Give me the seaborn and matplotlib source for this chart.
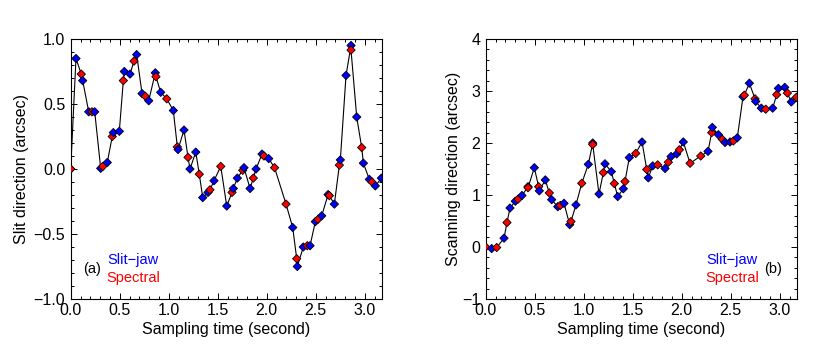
import numpy as np
import pandas as pd
import matplotlib
matplotlib.use("Agg")
import matplotlib.pyplot as plt
import seaborn as sns
from matplotlib.ticker import MultipleLocator

plt.rcParams['font.family'] = ['Liberation Sans', 'DejaVu Sans']
plt.rcParams['axes.unicode_minus'] = True

# ---------------- Panel (a): slit direction ----------------
slitjaw_time_a = [0.0, 0.054, 0.122, 0.184, 0.245, 0.306, 0.373, 0.435, 0.496, 0.547,
                  0.605, 0.673, 0.728, 0.796, 0.863, 0.918, 1.047, 1.095, 1.156, 1.217,
                  1.276, 1.347, 1.401, 1.462, 1.592, 1.659, 1.700, 1.768, 1.830, 1.891,
                  1.952, 2.020, 2.265, 2.312, 2.373, 2.442, 2.496, 2.561, 2.626, 2.690,
                  2.751, 2.809, 2.860, 2.918, 2.986, 3.047, 3.108, 3.170]
slitjaw_a = [0.0, 0.85, 0.68, 0.44, 0.44, 0.005, 0.05, 0.28, 0.29, 0.75,
             0.73, 0.88, 0.58, 0.525, 0.74, 0.59, 0.45, 0.15, 0.30, 0.0,
             0.13, -0.22, -0.18, -0.09, -0.285, -0.15, -0.07, 0.01, -0.15, 0.0,
             0.115, 0.08, -0.45, -0.75, -0.60, -0.59, -0.405, -0.36, -0.197, -0.27,
             0.07, 0.72, 0.95, 0.40, 0.045, -0.08, -0.13, -0.07]
spectral_time_a = [0.0, 0.108, 0.217, 0.327, 0.424, 0.537, 0.646, 0.761, 0.870, 0.980,
                   1.088, 1.197, 1.312, 1.421, 1.531, 1.646, 1.755, 1.863, 1.972, 2.080,
                   2.197, 2.306, 2.414, 2.523, 2.639, 2.741, 2.860, 2.969, 3.074]
spectral_a = [0.0, 0.73, 0.44, 0.02, 0.25, 0.68, 0.83, 0.56, 0.71, 0.54,
              0.17, 0.09, -0.04, -0.16, 0.02, -0.18, -0.01, -0.07, 0.10, 0.01,
              -0.27, -0.69, -0.59, -0.387, -0.205, 0.03, 0.915, 0.165, -0.10]

# ---------------- Panel (b): scanning direction ----------------
slitjaw_time_b = [0.061, 0.187, 0.248, 0.302, 0.370, 0.432, 0.496, 0.547, 0.608, 0.673,
                  0.735, 0.799, 0.857, 0.921, 1.047, 1.092, 1.156, 1.217, 1.282, 1.347,
                  1.404, 1.465, 1.595, 1.659, 1.704, 1.830, 1.891, 1.949, 2.016, 2.268,
                  2.312, 2.374, 2.442, 2.493, 2.567, 2.625, 2.690, 2.755, 2.812, 2.928,
                  2.986, 3.051, 3.118]
slitjaw_b = [-0.03, 0.17, 0.75, 0.88, 0.99, 1.16, 1.525, 1.08, 1.29, 0.91,
             0.775, 0.84, 0.43, 0.81, 1.59, 2.0, 1.02, 1.60, 1.45, 0.97,
             1.12, 1.72, 2.02, 1.33, 1.56, 1.51, 1.74, 1.79, 2.02, 1.84,
             2.30, 2.16, 2.01, 2.02, 2.10, 2.89, 3.15, 2.80, 2.67, 2.67,
             3.05, 3.07, 2.79]
spectral_time_b = [0.0, 0.112, 0.217, 0.330, 0.432, 0.540, 0.649, 0.761, 0.870, 0.980,
                   1.092, 1.200, 1.312, 1.421, 1.531, 1.643, 1.755, 1.863, 1.976, 2.085,
                   2.194, 2.306, 2.414, 2.527, 2.639, 2.748, 2.857, 2.969, 3.078, 3.170]
spectral_b = [0.0, -0.01, 0.47, 0.92, 1.14, 1.16, 1.04, 0.80, 0.49, 1.225,
              1.97, 1.43, 1.22, 1.26, 1.80, 1.49, 1.58, 1.63, 1.87, 1.61,
              1.75, 2.20, 2.07, 2.04, 2.92, 2.85, 2.65, 2.93, 2.96, 2.88]

series_names = ["Slit\u2212jaw", "Spectral"]
palette = {"Slit\u2212jaw": "#0000ff", "Spectral": "#ff0000"}

W, H = 830, 348
fig = plt.figure(figsize=(W / 100, H / 100), dpi=100)
ax_a = fig.add_axes([70.7 / W, 49 / H, 311 / W, 260 / H])
ax_b = fig.add_axes([485.7 / W, 49 / H, 311 / W, 260 / H])


def draw(ax, t1, v1, t2, v2):
    df = pd.concat([
        pd.DataFrame({"t": t1, "v": v1, "src": series_names[0]}),
        pd.DataFrame({"t": t2, "v": v2, "src": series_names[1]}),
    ]).sort_values("t", kind="stable").reset_index(drop=True)
    sns.lineplot(data=df, x="t", y="v", sort=False, estimator=None,
                 color="black", linewidth=0.8, ax=ax)
    sns.scatterplot(data=df, x="t", y="v", hue="src", palette=palette,
                    marker="D", s=18, edgecolor="black", linewidth=0.6,
                    legend=False, ax=ax, zorder=3)


draw(ax_a, slitjaw_time_a, slitjaw_a, spectral_time_a, spectral_a)
draw(ax_b, slitjaw_time_b, slitjaw_b, spectral_time_b, spectral_b)

fs = 11.5
fs_leg = 10.5
for ax in (ax_a, ax_b):
    ax.set_xlim(0, 3.173)
    ax.xaxis.set_major_locator(MultipleLocator(0.5))
    ax.xaxis.set_minor_locator(MultipleLocator(0.1))
    ax.tick_params(which="both", direction="in", top=True, right=True,
                   width=0.7, color="black", labelsize=fs)
    ax.tick_params(which="major", length=4.5, pad=3)
    ax.tick_params(which="minor", length=2.2)
    ax.tick_params(axis="y", which="major", pad=4)
    for sp in ax.spines.values():
        sp.set_linewidth(0.8)
        sp.set_color("black")
    ax.set_xlabel("Sampling time (second)", fontsize=fs, labelpad=2.5)
    ax.set_facecolor("white")

ax_a.set_ylim(-1, 1)
ax_a.yaxis.set_major_locator(MultipleLocator(0.5))
ax_a.yaxis.set_minor_locator(MultipleLocator(0.1))
ax_a.set_ylabel("Slit direction (arcsec)", fontsize=fs, labelpad=3)

ax_b.set_ylim(-1, 4)
ax_b.yaxis.set_major_locator(MultipleLocator(1))
ax_b.yaxis.set_minor_locator(MultipleLocator(0.2))
ax_b.set_ylabel("Scanning direction (arcsec)", fontsize=fs, labelpad=1)

# annotations / legend text
ax_a.text(0.0386, 0.115, "(a)", transform=ax_a.transAxes, fontsize=fs_leg, va="center", ha="left", color="black")
ax_a.text(0.118, 0.150, series_names[0], transform=ax_a.transAxes, fontsize=fs_leg, va="center", ha="left", color=palette[series_names[0]])
ax_a.text(0.1135, 0.082, series_names[1], transform=ax_a.transAxes, fontsize=fs_leg, va="center", ha="left", color=palette[series_names[1]])

ax_b.text(0.895, 0.115, "(b)", transform=ax_b.transAxes, fontsize=fs_leg, va="center", ha="left", color="black")
ax_b.text(0.708, 0.150, series_names[0], transform=ax_b.transAxes, fontsize=fs_leg, va="center", ha="left", color=palette[series_names[0]])
ax_b.text(0.705, 0.082, series_names[1], transform=ax_b.transAxes, fontsize=fs_leg, va="center", ha="left", color=palette[series_names[1]])

fig.savefig("out.png", dpi=100, facecolor="white")
